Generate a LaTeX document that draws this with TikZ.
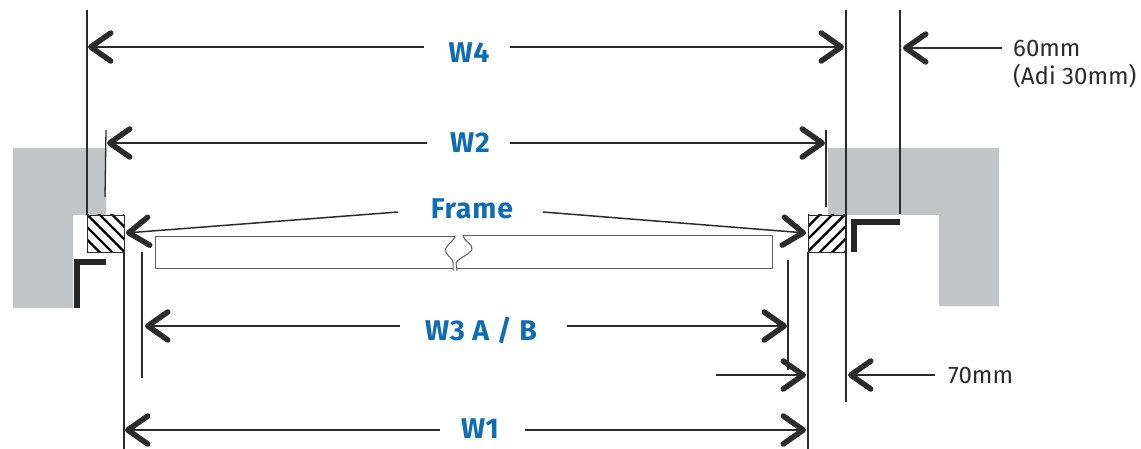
\documentclass[tikz,border=0pt]{standalone}
\usepackage{fontspec}
\setmainfont{Fira Sans}
\usetikzlibrary{arrows.meta}
\definecolor{wallgray}{HTML}{C3C4C6}
\definecolor{labelblue}{HTML}{0F6CB2}
\definecolor{inkc}{HTML}{2B2B2B}
\tikzset{
  x=1pt,y=-1pt,
  wall/.style={fill=wallgray,draw=none},
  extline/.style={draw=inkc,line width=1.3pt},
  thinline/.style={draw=inkc!75,line width=1pt},
  dim/.style={draw=inkc,line width=1.5pt,-{Straight Barb[length=20pt,width=28pt,line width=5.5pt,round]}},
  corner/.style={draw=black!85,line width=6pt,miter limit=10},
  bluelabel/.style={text=labelblue,font=\fontsize{28.5}{32}\selectfont\bfseries\addfontfeature{LetterSpace=3},inner sep=0pt},
  graylabel/.style={text=inkc,font=\fontsize{24}{28}\selectfont,inner sep=0pt,align=left},
  framebox/.style={draw=inkc,line width=.9pt},
  hatchline/.style={draw=black,line width=2.2pt},
}
\begin{document}
\begin{tikzpicture}
\useasboundingbox (0,0) rectangle (1141,449);
% walls
\fill[wall] (13,148) -- (106,148) -- (106,215) -- (73,215) -- (73,308) -- (13,308) -- cycle;
\fill[wall] (828,148) -- (999,148) -- (999,306) -- (939,306) -- (939,215) -- (828,215) -- cycle;
% corners
\draw[corner] (106,262) -- (76.5,262) -- (76.5,308);
\draw[corner] (900,222.5) -- (853.5,222.5) -- (853.5,252);
% frame boxes
\begin{scope}
\clip (87,215) rectangle (124,252);
\foreach \k in {-3,...,3} \draw[hatchline] ({105.5+\k*12.5-25},208) -- ({105.5+\k*12.5+25},258);
\end{scope}
\begin{scope}
\clip (808,215) rectangle (845,252);
\foreach \k in {-3,...,3} \draw[hatchline] ({826.5+\k*12.5+25},208) -- ({826.5+\k*12.5-25},258);
\end{scope}
\node[framebox,minimum width=37pt,minimum height=37pt,inner sep=0pt] (fl) at (105.5,233.5) {};
\node[framebox,minimum width=37pt,minimum height=37pt,inner sep=0pt] (fr) at (826.5,233.5) {};
% extension lines
\coordinate (e1t) at (87,10);   \coordinate (e1b) at (87,215);
\coordinate (e2t) at (106,130); \coordinate (e2b) at (105,197);
\coordinate (e3t) at (124,252); \coordinate (e3b) at (124,449);
\coordinate (e4t) at (142,252); \coordinate (e4b) at (142,378);
\coordinate (e5t) at (788,260); \coordinate (e5b) at (788,370);
\coordinate (e6t) at (808,252); \coordinate (e6b) at (808,449);
\coordinate (e7t) at (826,130); \coordinate (e7b) at (826,207);
\coordinate (e8t) at (846,10);  \coordinate (e8b) at (846,402);
\coordinate (e9t) at (900,10);  \coordinate (e9b) at (900,214);
\foreach \n in {1,2,3,4,5,6,7,8,9} \draw[extline] (e\n t) -- (e\n b);
% panel
\draw[thinline] (455,237) -- (155,237) -- (155,269) -- (453,269);
\draw[thinline] (463,236) -- (772,236) -- (772,269) -- (457,269);
\draw[thinline] (455,237) .. controls (451,244) and (443,247) .. (446,252) .. controls (448,257) and (453,259) .. (453,262) -- (453,271);
\draw[thinline] (463,236) .. controls (464,241) and (473,244) .. (472,249) .. controls (471,254) and (458,258) .. (456,263) -- (457,271);
% labels
\node[bluelabel] (w4) at (469,53) {W4};
\node[bluelabel] (w2) at (470,143) {W2};
\node[bluelabel] (frame) at (472,209) {Frame};
\node[bluelabel] (w3) at (481,330) {W3 A / B};
\node[bluelabel] (w1) at (480,429) {W1};
\node[graylabel,anchor=west] (t60) at (1013,48) {60mm};
\node[graylabel,anchor=west] (t30) at (1013,76) {(Adi 30mm)};
\node[graylabel,anchor=west] (t70) at (948,375) {70mm};
% dimension arrows
\coordinate (a4l) at (88,47);  \coordinate (a4r) at (844,47);
\coordinate (a2l) at (107,143); \coordinate (a2r) at (825,143);
\coordinate (afl) at (126,233); \coordinate (afr) at (806,233);
\coordinate (a3l) at (145,326); \coordinate (a3r) at (787,326);
\coordinate (a1l) at (125,430); \coordinate (a1r) at (806,430);
\coordinate (a7s) at (716,375); \coordinate (a7l) at (806,375);
\coordinate (a7r) at (848,375); \coordinate (a6e) at (903,48);
\draw[dim] (424,47) -- (a4l); \draw[dim] (510,47) -- (a4r);
\draw[dim] (427,143) -- (a2l); \draw[dim] (510,143) -- (a2r);
\draw[dim] (398,212) -- (afl); \draw[dim] (543,212) -- (afr);
\draw[dim] (400,326) -- (a3l); \draw[dim] (567,326) -- (a3r);
\draw[dim] (440,430) -- (a1l); \draw[dim] (525,430) -- (a1r);
\draw[dim] (a7s) -- (a7l);
\draw[dim] (935,375) -- (a7r);
\draw[dim] (1002,48) -- (a6e);
\end{tikzpicture}
\end{document}
